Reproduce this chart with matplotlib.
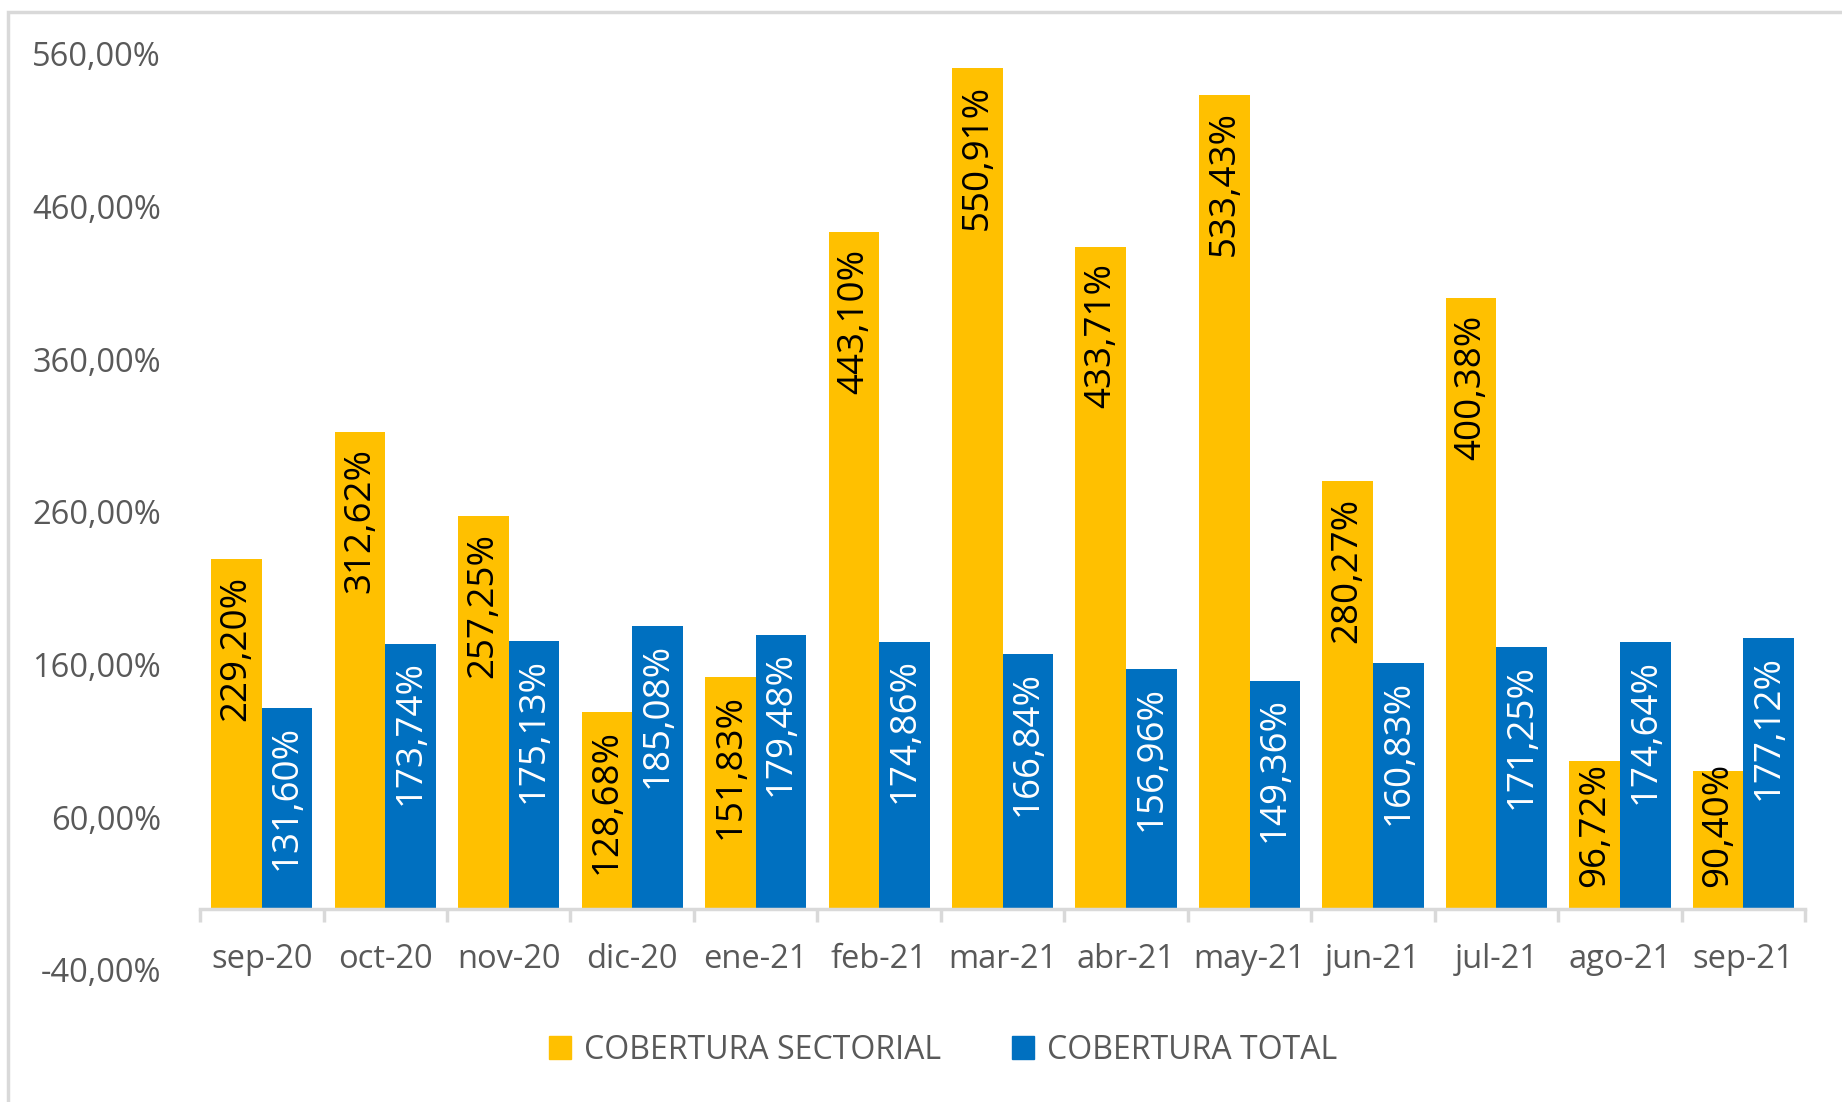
import matplotlib
matplotlib.use("Agg")
import matplotlib.pyplot as plt
from matplotlib.patches import Rectangle, Patch
from matplotlib.ticker import FixedLocator, FuncFormatter
import numpy as np

# ─── Data ───────────────────────────────────────────────────────────────────
months = ["sep-20", "oct-20", "nov-20", "dic-20", "ene-21", "feb-21", "mar-21",
          "abr-21", "may-21", "jun-21", "jul-21", "ago-21", "sep-21"]
sectorial = [229.20, 312.62, 257.25, 128.68, 151.83, 443.10, 550.91,
             433.71, 533.43, 280.27, 400.38, 96.72, 90.40]
total = [131.60, 173.74, 175.13, 185.08, 179.48, 174.86, 166.84,
         156.96, 149.36, 160.83, 171.25, 174.64, 177.12]
y_ticks = [-40, 60, 160, 260, 360, 460, 560]

# ─── Style ──────────────────────────────────────────────────────────────────
YELLOW = "#FFC000"
BLUE = "#0070C0"
TXT = "#595959"
AXIS = "#D9D9D9"
FONT = "Open Sans"


def pct(v):
    return f"{v:.2f}".replace(".", ",") + "%"


fig = plt.figure(figsize=(18.42, 11.02), dpi=100)
ax = fig.add_axes([0.1086, 0.120, 0.8714, 0.831])

# chart border (cut off on right / bottom like the reference)
fig.patches.append(Rectangle((8 / 1842, -0.05), 1.1, 1 - 12 / 1102 + 0.05,
                             transform=fig.transFigure, fill=False,
                             edgecolor=AXIS, linewidth=2.5))

x = np.arange(len(months))
w = 0.41
b1 = ax.bar(x - w / 2, sectorial, w, color=YELLOW, edgecolor="none")
b2 = ax.bar(x + w / 2, total, w, color=BLUE, edgecolor="none")

ax.set_xlim(-0.5, len(months) - 0.5)
ax.set_ylim(-40, 560)

for s in ["top", "right", "left"]:
    ax.spines[s].set_visible(False)
ax.spines["bottom"].set_position(("data", 0))
ax.spines["bottom"].set_color(AXIS)
ax.spines["bottom"].set_linewidth(2.5)

ax.set_xticks(x)
ax.set_xticklabels(months, fontsize=23.5, color=TXT, family=FONT)
ax.xaxis.set_minor_locator(FixedLocator(np.arange(-0.5, len(months), 1)))
ax.tick_params(axis="x", which="major", length=0, pad=25)
ax.tick_params(axis="x", which="minor", length=9, width=2.5, color=AXIS)

ax.yaxis.set_major_locator(FixedLocator(y_ticks))
ax.yaxis.set_major_formatter(FuncFormatter(lambda v, p: pct(v)))
ax.tick_params(axis="y", length=0, pad=28, labelsize=23.5, labelcolor=TXT)
for t in ax.get_yticklabels():
    t.set_family(FONT)

# data labels: inside end, rotated; pushed up if they would hit the axis
labels = []
for bars, vals, col in [(b1, sectorial, "black"), (b2, total, "white")]:
    for r, v in zip(bars, vals):
        t = ax.annotate(pct(v), (r.get_x() + r.get_width() / 2, v),
                        xytext=(0, -12), textcoords="offset points",
                        rotation=90, ha="center", va="top", fontsize=26.5,
                        color=col, family=FONT)
        labels.append((t, v))

fig.canvas.draw()
renderer = fig.canvas.get_renderer()
base_px = ax.transData.transform((0, 0))[1]
for t, v in labels:
    bb = t.get_window_extent(renderer)
    min_bottom = base_px + 22
    if bb.y0 < min_bottom:
        t.xyann = (0, -12 + (min_bottom - bb.y0) * 72 / fig.dpi)

handles = [Patch(color=YELLOW, label="COBERTURA SECTORIAL"),
           Patch(color=BLUE, label="COBERTURA TOTAL")]
fig.legend(handles=handles, loc="center", bbox_to_anchor=(0.512, 0.047),
           ncol=2, frameon=False, handlelength=0.7, handleheight=0.7,
           handletextpad=0.4, columnspacing=2.2,
           prop={"family": FONT, "size": 23}, labelcolor=TXT)

fig.savefig("out.png", dpi=100, facecolor="white")
